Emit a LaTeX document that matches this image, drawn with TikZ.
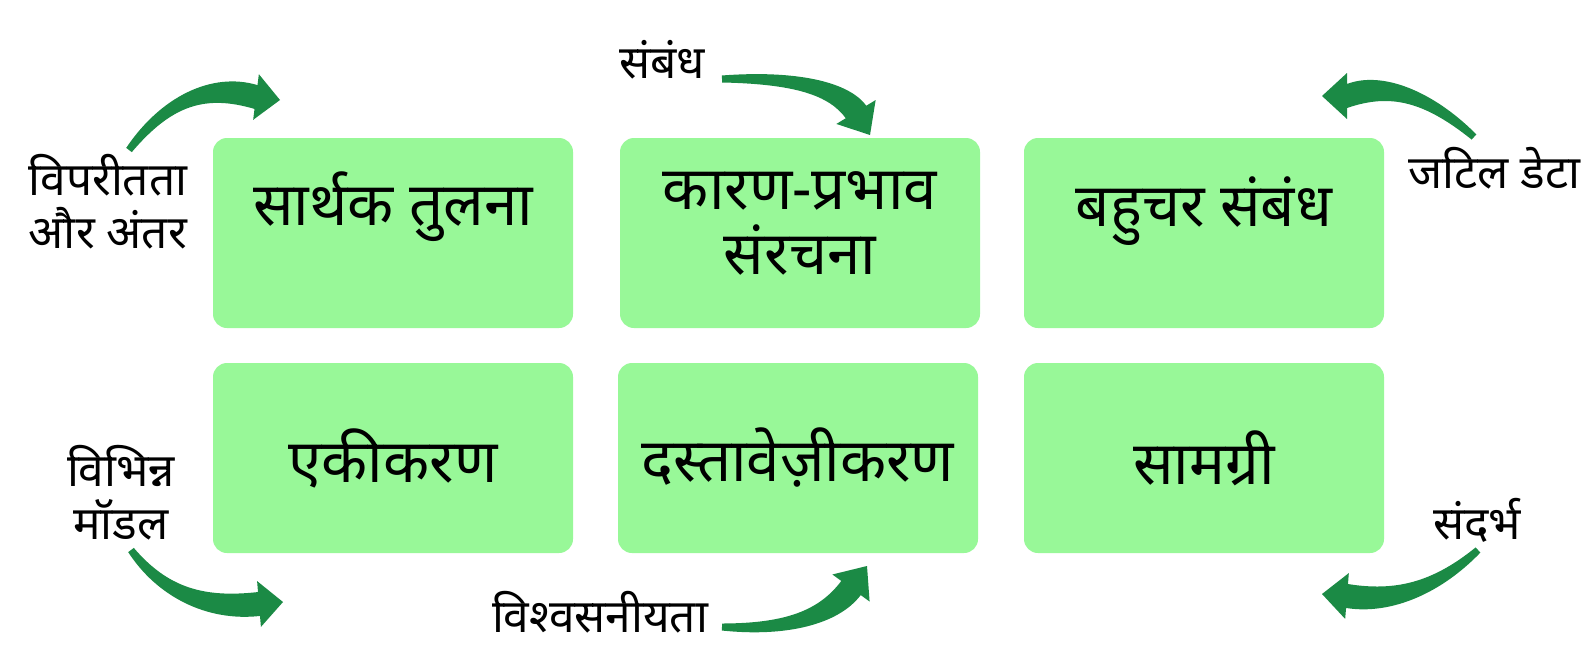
\documentclass[tikz,border=0pt]{standalone}
\usepackage{fontspec}
\newfontfamily\deva[Script=Devanagari]{Noto Sans}
\usetikzlibrary{calc}
\definecolor{boxgreen}{HTML}{98F898}
\definecolor{arrgreen}{HTML}{1B8A45}
% #1 tail, #2 control, #3 head base, #4 tip, #5 body half width, #6 head half width
\newcommand\tarrow[6]{%
 \coordinate (q1) at ($(#1)!0.667!(#2)$);
 \coordinate (q2) at ($(#3)!0.667!(#2)$);
 \fill[arrgreen] ($(#1)!3.5pt!90:(#2)$) .. controls ($(q1)!7pt!90:(#2)$) and ($(q2)!#5!-90:(#2)$) .. ($(#3)!#5!90:(#4)$)
   -- ($(#3)!#6!90:(#4)$) -- (#4) -- ($(#3)!#6!-90:(#4)$) -- ($(#3)!#5!-90:(#4)$)
   .. controls ($(q2)!#5!90:(#2)$) and ($(q1)!7pt!-90:(#2)$) .. ($(#1)!3.5pt!-90:(#2)$) -- cycle;}
\begin{document}
\begin{tikzpicture}[x=1pt,y=-1pt,
  box/.style={fill=boxgreen, rounded corners=14pt, minimum width=360pt, minimum height=190pt, inner sep=0pt},
  boxtext/.style={align=center, text=black, inner sep=0pt, font=\deva\fontsize{60}{65}\selectfont},
  lbl/.style={align=center, text=black, inner sep=0pt, font=\deva\fontsize{46}{53}\selectfont}]
\useasboundingbox (0,0) rectangle (1588,672);
\fill[white] (0,0) rectangle (1588,672);
% boxes
\node[box] (b1) at (393,233) {};
\node[box] (b2) at (800,233) {};
\node[box] (b3) at (1204,233) {};
\node[box] (b4) at (393,458) {};
\node[box] (b5) at (798,458) {};
\node[box] (b6) at (1204,458) {};
\node[boxtext] (t1) at ($(b1.center)+(0,-26)$) {सार्थक तुलना};
\node[boxtext] (t2) at ($(b2.center)+(0,-10)$) {कारण-प्रभाव\\संरचना};
\node[boxtext] (t3) at ($(b3.center)+(0,-22)$) {बहुचर संबंध};
\node[boxtext] (t4) at ($(b4.center)+(0,0)$) {एकीकरण};
\node[boxtext] (t5) at ($(b5.center)+(0,0)$) {दस्तावेज़ीकरण};
\node[boxtext] (t6) at ($(b6.center)+(0,0)$) {सामग्री};
% labels
\node[lbl] (l1) at (108,202) {विपरीतता\\और अंतर};
\node[lbl] (l2) at (662,60) {संबंध};
\node[lbl, anchor=west] (l3) at (1408,168) {जटिल डेटा};
\node[lbl] (l4) at (121,493) {विभिन्न\\मॉडल};
\node[lbl] (l5) at (600,612) {विश्वसनीयता};
\node[lbl] (l6) at (1477,520) {संदर्भ};
% arrows
\coordinate (a1s) at (129,150); \coordinate (a1c) at (185,76); \coordinate (a1b) at (256,97); \coordinate (a1t) at (280,100);
\coordinate (a2s) at (722,79); \coordinate (a2c) at (830,76); \coordinate (a2b) at (856,112); \coordinate (a2t) at (870,135);
\coordinate (a3s) at (1474,137); \coordinate (a3c) at (1405,75); \coordinate (a3b) at (1347,96); \coordinate (a3t) at (1322,96);
\coordinate (a4s) at (131,550); \coordinate (a4c) at (178,613); \coordinate (a4b) at (259,604); \coordinate (a4t) at (283,602);
\coordinate (a5s) at (722,627); \coordinate (a5c) at (818,632); \coordinate (a5b) at (851,588); \coordinate (a5t) at (867,566);
\coordinate (a6s) at (1478,550); \coordinate (a6c) at (1416,607); \coordinate (a6b) at (1347,596); \coordinate (a6t) at (1322,594);
\tarrow{a1s}{a1c}{a1b}{a1t}{12pt}{23pt}
\tarrow{a2s}{a2c}{a2b}{a2t}{12pt}{23pt}
\tarrow{a3s}{a3c}{a3b}{a3t}{12pt}{23pt}
\tarrow{a4s}{a4c}{a4b}{a4t}{12pt}{23pt}
\tarrow{a5s}{a5c}{a5b}{a5t}{12pt}{23pt}
\tarrow{a6s}{a6c}{a6b}{a6t}{12pt}{23pt}
\end{tikzpicture}
\end{document}
